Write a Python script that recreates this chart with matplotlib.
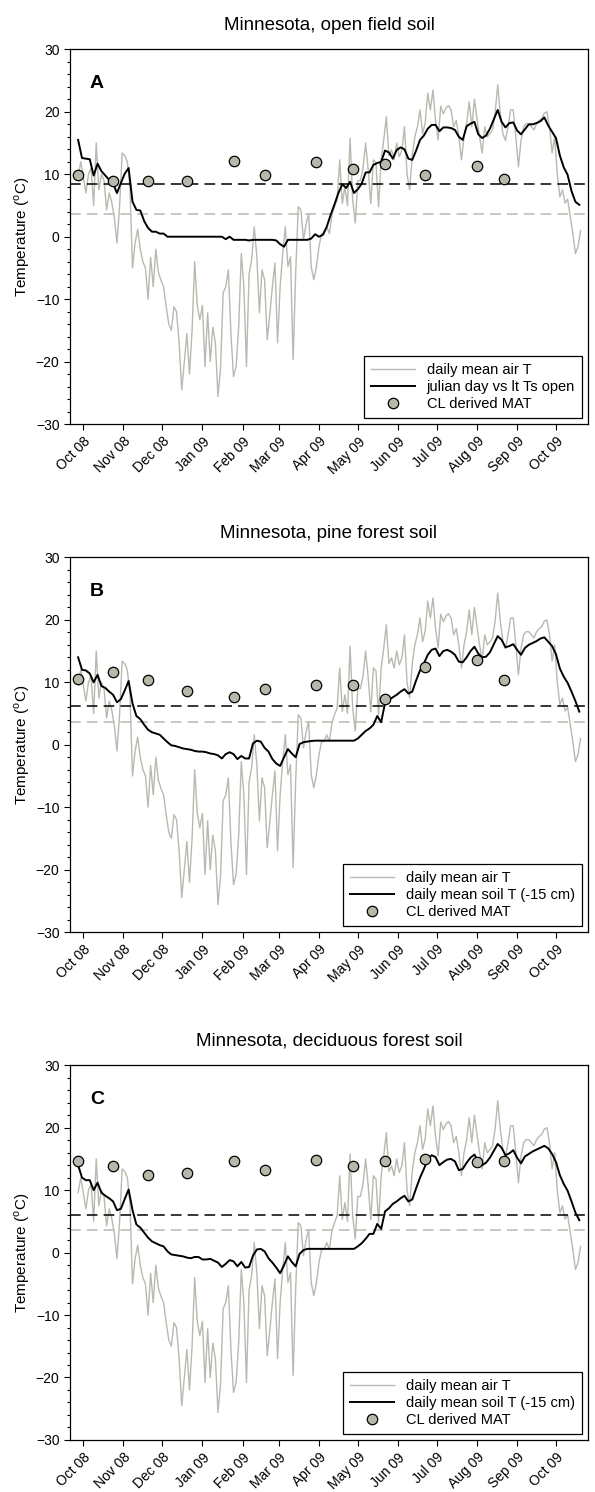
import numpy as np
import matplotlib
matplotlib.use("Agg")
import matplotlib.pyplot as plt
import matplotlib.dates as mdates
from matplotlib.ticker import MultipleLocator

plt.rcParams["font.family"] = ["Liberation Sans", "DejaVu Sans"]
plt.rcParams["mathtext.fontset"] = "custom"
plt.rcParams["mathtext.rm"] = "Liberation Sans"

# daily mean air T, read every 2 days starting 27 Sep 2008
AIR_START = "2008-09-27"
air_t = [
    9.6, 12.0, 9.6, 7.0, 10.0, 11.0, 5.0, 15.0, 7.5, 10.0,
    9.0, 4.3, 7.0, 5.5, 3.0, -1.0, 4.8, 13.4, 13.0, 12.0,
    8.0, -5.0, -1.0, 1.2, -2.0, -4.0, -5.0, -10.0, -3.3, -8.0,
    -2.0, -5.7, -7.0, -8.0, -11.2, -14.0, -15.0, -11.2, -12.0, -17.0,
    -24.5, -20.0, -15.5, -22.0, -15.0, -4.0, -11.0, -13.3, -11.0, -20.8,
    -12.2, -20.0, -14.5, -17.0, -25.6, -21.0, -9.0, -8.0, -5.3, -15.6,
    -22.4, -20.8, -14.4, -2.7, -8.0, -20.8, -6.0, -3.7, 1.6, -3.2,
    -12.2, -5.3, -6.9, -16.5, -12.5, -8.0, -4.2, -17.0, -8.0, -2.7,
    1.6, -4.8, -3.2, -19.7, -5.8, 4.8, 4.3, -0.5, 2.0, 3.7,
    -4.8, -6.9, -4.8, -1.6, 0.5, 0.5, 1.6, 0.5, 3.5, 4.8,
    5.9, 12.3, 5.3, 8.0, 5.0, 15.8, 5.9, 2.2, 9.0, 9.0,
    11.0, 15.0, 10.7, 5.3, 12.3, 11.8, 4.8, 12.3, 15.5, 19.2,
    13.0, 13.9, 12.3, 15.0, 12.8, 13.9, 17.6, 10.0, 7.5, 13.0,
    16.0, 17.6, 20.3, 16.5, 18.2, 23.0, 20.3, 23.5, 18.6, 15.5,
    20.9, 19.7, 20.6, 21.0, 20.3, 17.6, 18.6, 16.0, 12.3, 16.0,
    18.1, 21.6, 17.6, 22.0, 18.9, 16.0, 13.4, 17.6, 16.0, 16.5,
    17.1, 19.8, 24.3, 19.8, 16.5, 15.4, 17.6, 20.3, 20.3, 16.0,
    11.2, 15.4, 17.6, 18.1, 18.1, 17.6, 17.1, 18.1, 18.6, 18.9,
    19.8, 20.0, 17.6, 13.4, 16.0, 10.0, 6.4, 7.5, 5.4, 6.0,
    3.2, 0.5, -2.7, -1.6, 1.0,
]

# soil T, read every 3 days starting 27 Sep 2008
SOIL_START = "2008-09-27"
soil_open = [
    15.5, 12.6, 12.5, 12.4, 9.8, 11.7, 10.5, 9.8, 9.1, 8.5,
    7.0, 8.6, 10.1, 11.0, 5.6, 4.3, 4.2, 2.5, 1.4, 0.8,
    0.8, 0.5, 0.5, 0.0, 0.0, 0.0, 0.0, 0.0, 0.0, 0.0,
    0.0, 0.0, 0.0, 0.0, 0.0, 0.0, 0.0, 0.0, -0.4, 0.0,
    -0.5, -0.5, -0.5, -0.5, -0.6, -0.5, -0.5, -0.5, -0.5, -0.5,
    -0.5, -0.6, -1.2, -1.6, -0.5, -0.5, -0.5, -0.5, -0.5, -0.5,
    -0.3, 0.4, 0.0, 0.3, 1.6, 3.5, 5.2, 7.0, 8.4, 7.8,
    8.8, 7.0, 7.6, 8.5, 10.3, 10.3, 11.5, 11.8, 12.0, 13.8,
    13.5, 12.5, 13.9, 14.3, 14.0, 12.5, 12.3, 13.8, 15.5, 16.2,
    17.3, 17.9, 17.9, 16.9, 17.5, 17.5, 17.4, 17.1, 16.0, 15.5,
    17.7, 18.1, 18.4, 16.4, 15.8, 16.2, 17.3, 18.8, 20.3, 18.4,
    17.5, 18.2, 18.3, 17.0, 16.4, 17.2, 18.0, 18.0, 18.2, 18.5,
    19.1, 17.8, 16.8, 15.8, 13.0, 11.1, 9.9, 7.3, 5.6, 5.1,
]
soil_pine = [
    14.0, 12.0, 11.9, 11.4, 10.0, 11.2, 9.4, 9.1, 8.5, 8.0,
    6.8, 7.3, 8.7, 10.2, 6.6, 4.6, 4.1, 3.2, 2.4, 2.0,
    1.8, 1.6, 1.0, 0.4, -0.1, -0.2, -0.4, -0.6, -0.7, -0.8,
    -1.0, -1.1, -1.1, -1.2, -1.4, -1.5, -1.7, -2.2, -1.5, -1.2,
    -1.5, -2.3, -1.8, -2.2, -2.2, 0.2, 0.65, 0.5, -0.5, -1.1,
    -2.3, -3.0, -3.4, -2.0, -0.7, -1.4, -2.0, 0.1, 0.4, 0.5,
    0.6, 0.65, 0.65, 0.65, 0.65, 0.65, 0.65, 0.65, 0.65, 0.65,
    0.65, 0.65, 1.0, 1.6, 2.2, 2.6, 3.2, 4.6, 3.6, 6.7,
    7.2, 7.6, 8.0, 8.5, 8.9, 8.2, 8.5, 10.3, 11.9, 13.0,
    14.4, 15.2, 15.4, 14.2, 15.0, 15.2, 14.9, 14.4, 13.3, 13.2,
    14.0, 15.0, 15.7, 14.6, 14.0, 14.1, 14.8, 16.1, 17.4, 16.8,
    15.6, 15.8, 16.1, 15.2, 14.4, 15.5, 16.0, 16.3, 16.6, 17.0,
    17.2, 16.5, 15.8, 14.5, 12.2, 10.9, 9.9, 8.5, 7.0, 5.3,
]
soil_decid = [
    14.0, 12.0, 11.6, 11.6, 10.0, 11.2, 9.6, 9.1, 8.7, 8.2,
    6.8, 7.0, 8.6, 10.1, 6.8, 4.5, 4.0, 3.2, 2.4, 1.8,
    1.5, 1.2, 1.0, 0.2, -0.3, -0.4, -0.5, -0.6, -0.8, -0.9,
    -0.7, -0.7, -1.1, -1.1, -1.0, -1.3, -1.6, -2.3, -1.8, -1.2,
    -1.4, -2.2, -1.5, -2.4, -2.3, -0.5, 0.5, 0.6, 0.2, -0.9,
    -1.6, -2.4, -3.3, -2.0, -0.6, -1.5, -2.2, -0.2, 0.4, 0.6,
    0.6, 0.6, 0.6, 0.6, 0.6, 0.6, 0.6, 0.6, 0.6, 0.6,
    0.6, 0.6, 1.0, 1.5, 2.2, 3.0, 3.0, 4.6, 3.8, 6.6,
    7.1, 7.8, 8.2, 8.7, 9.1, 8.2, 8.5, 10.3, 12.0, 13.4,
    14.9, 15.6, 15.3, 14.0, 14.5, 14.9, 15.0, 14.6, 13.2, 13.4,
    14.4, 15.2, 15.7, 14.6, 14.0, 14.4, 15.2, 16.3, 17.4, 16.8,
    15.6, 15.9, 16.4, 15.2, 14.3, 15.4, 15.8, 16.2, 16.5, 16.8,
    17.1, 16.7, 15.8, 14.5, 12.4, 11.0, 9.9, 8.2, 6.4, 5.2,
]

# CL derived MAT
mat_dates = ["2008-09-27", "2008-10-24", "2008-11-20", "2008-12-20",
             "2009-01-25", "2009-02-18", "2009-03-30", "2009-04-27",
             "2009-05-22", "2009-06-22", "2009-08-01", "2009-08-22"]
mat_open = [9.9, 9.0, 9.0, 8.9, 12.2, 9.9, 11.9, 10.9, 11.7, 9.9, 11.3, 9.3]
mat_pine = [10.5, 11.7, 10.4, 8.6, 7.7, 9.0, 9.5, 9.5, 7.4, 12.5, 13.6, 10.3]
mat_decid = [14.6, 13.9, 12.5, 12.7, 14.6, 13.3, 14.8, 13.8, 14.6, 15.0, 14.5, 14.6]

# long-term means (dashed lines)
lt_soil = [8.4, 6.2, 6.0]
lt_air = 3.6

titles = ["Minnesota, open field soil", "Minnesota, pine forest soil",
          "Minnesota, deciduous forest soil"]
letters = ["A", "B", "C"]
soil_labels = ["julian day vs lt Ts open", "daily mean soil T (-15 cm)",
               "daily mean soil T (-15 cm)"]

GRAY = "#b9b9af"
MARKER_GRAY = "#b8b8aa"

air_dates = np.datetime64(AIR_START) + np.arange(len(air_t)) * np.timedelta64(2, "D")
soil_dates = np.datetime64(SOIL_START) + np.arange(len(soil_open)) * np.timedelta64(3, "D")
mat_x = np.array(mat_dates, dtype="datetime64[D]")

fig = plt.figure(figsize=(5.95, 14.92), dpi=100)
bottoms = [0.7158, 0.3753, 0.0349]

for i, (soil, mat) in enumerate(zip([soil_open, soil_pine, soil_decid],
                                    [mat_open, mat_pine, mat_decid])):
    ax = fig.add_axes([0.1176, bottoms[i], 0.8706, 0.2511])

    ax.plot(air_dates, air_t, color=GRAY, lw=1.0, label="daily mean air T", zorder=2)
    ax.plot(soil_dates, soil, color="black", lw=1.4, label=soil_labels[i], zorder=3)
    ax.axhline(lt_soil[i], color="black", lw=1.1, ls=(0, (7, 4)), zorder=4)
    ax.axhline(lt_air, color=GRAY, lw=1.1, ls=(0, (7, 4)), zorder=1)
    ax.plot(mat_x, mat, "o", ms=7.5, mfc=MARKER_GRAY, mec="black", mew=0.9,
            label="CL derived MAT", zorder=5)

    ax.set_xlim(np.datetime64("2008-09-20T17:00"), np.datetime64("2009-10-25T17:00"))
    ax.set_ylim(-30, 30)
    ax.yaxis.set_major_locator(MultipleLocator(10))
    ax.yaxis.set_minor_locator(MultipleLocator(2))
    ax.xaxis.set_major_locator(mdates.MonthLocator())
    ax.xaxis.set_major_formatter(mdates.DateFormatter("%b %y"))
    ax.tick_params(axis="both", which="major", direction="out", length=4,
                   width=0.8, labelsize=10)
    ax.tick_params(axis="y", which="minor", direction="out", length=2.5, width=0.8)
    plt.setp(ax.get_xticklabels(), rotation=45, ha="right", rotation_mode="anchor")
    for s in ax.spines.values():
        s.set_linewidth(0.9)

    ax.set_ylabel(r"Temperature ($^{\rm o}$C)", fontsize=11, labelpad=3)
    ax.set_title(titles[i], fontsize=13.5, pad=14)
    ax.text(0.052, 0.91, letters[i], transform=ax.transAxes, fontsize=14,
            fontweight="bold", ha="center", va="center")

    leg = ax.legend(loc="lower right", fontsize=10.5, frameon=True, fancybox=False,
                    edgecolor="black", framealpha=1, numpoints=1, handlelength=3,
                    borderaxespad=0.4, labelspacing=0.2, borderpad=0.5)
    leg.get_frame().set_linewidth(0.9)

fig.savefig("out.png", dpi=100)
